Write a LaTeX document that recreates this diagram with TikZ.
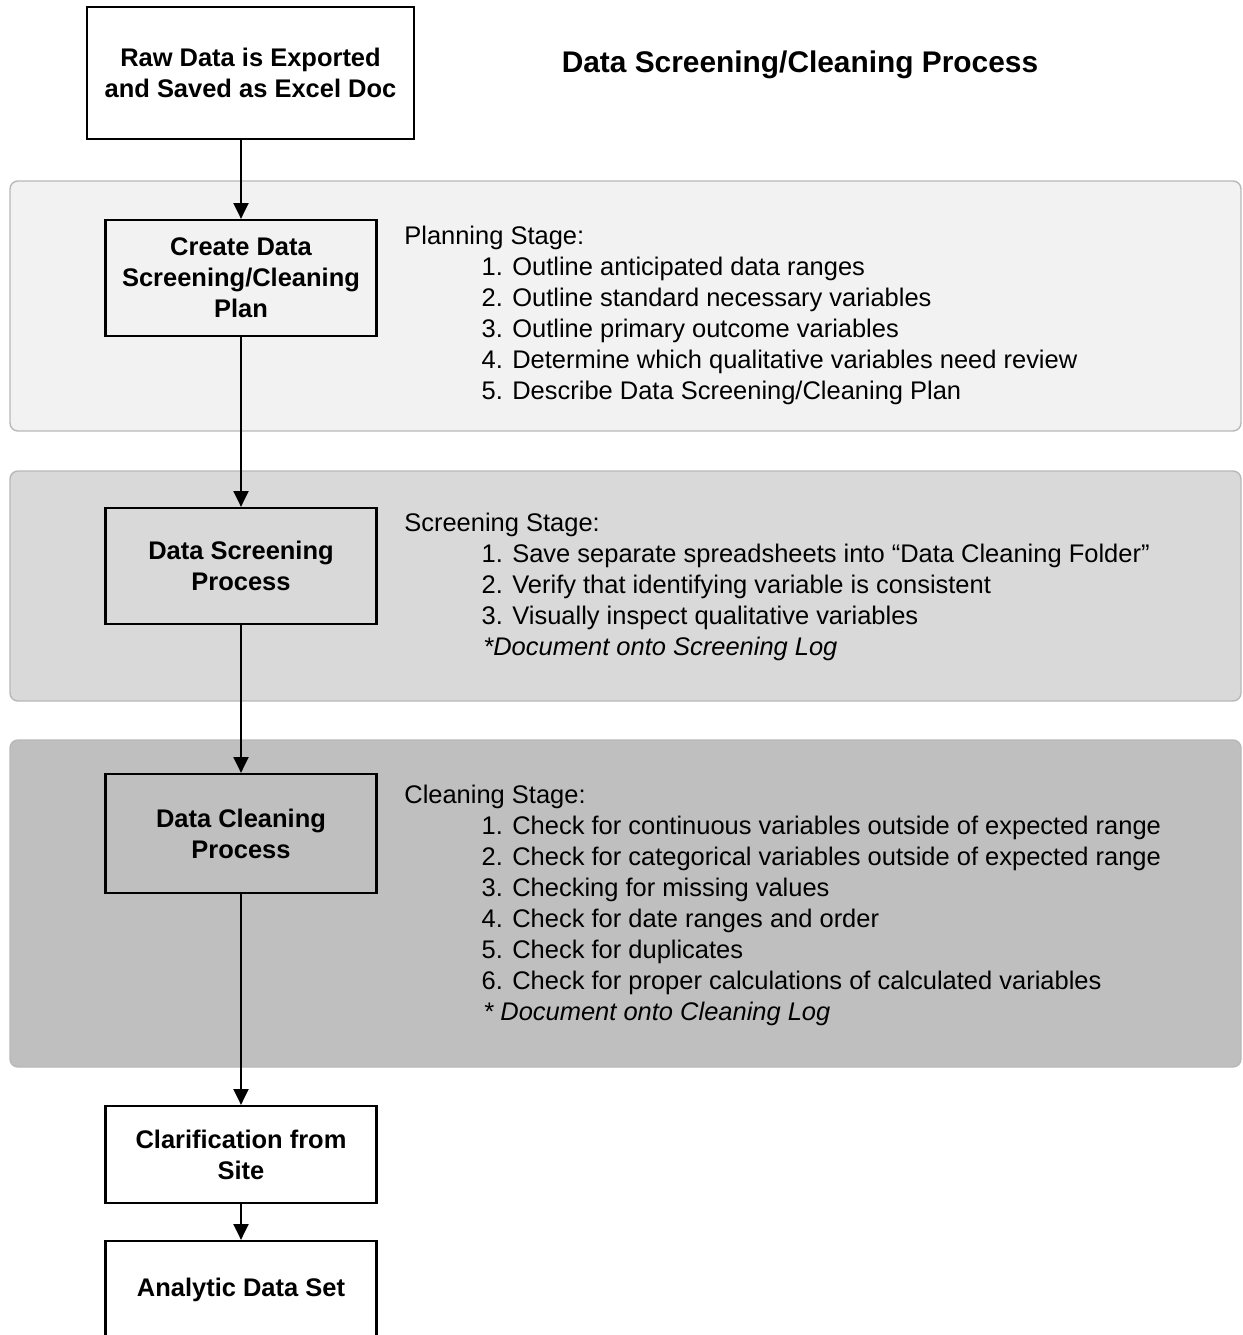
\documentclass[tikz,border=0pt]{standalone}
\usepackage{fontspec}
\setmainfont{Liberation Sans}
\usetikzlibrary{arrows.meta, positioning}
\definecolor{panelA}{HTML}{F2F2F2}
\definecolor{panelB}{HTML}{D9D9D9}
\definecolor{panelC}{HTML}{BFBFBF}
\definecolor{panelline}{HTML}{B8B8B8}
\newcommand{\itemgap}{\hspace*{44pt}}
\newcommand{\notegap}{\hspace*{45pt}}

\begin{document}
\begin{tikzpicture}[x=0.02cm, y=-0.02cm,
  box/.style={draw, line width=1.3pt, minimum width=5.42cm, inner sep=0pt,
    align=center, font={\fontsize{14.5}{17.6}\selectfont\bfseries}},
  stagetext/.style={anchor=north west, inner sep=0pt, align=left,
    font={\fontsize{14.5}{17.6}\selectfont}},
  panel/.style={draw=panelline, line width=0.8pt, rounded corners=0.16cm},
  flow/.style={line width=1.2pt, -{Triangle[length=9pt, width=8.5pt]}}]

\useasboundingbox (0,0) rectangle (1243,1335);

% stage panels
\draw[panel, fill=panelA] (10,181) rectangle (1241,431);
\draw[panel, fill=panelB] (10,471) rectangle (1241,701);
\draw[panel, fill=panelC] (10,740) rectangle (1241,1067);

\node[font={\fontsize{17}{20}\selectfont\bfseries}] (title) at (800,65) {Data Screening/Cleaning Process};

\node[box, minimum width=6.54cm, minimum height=2.64cm] (raw) at (250.5,73) {Raw Data is Exported\\and Saved as Excel Doc};
\node[box, minimum height=2.32cm] (plan) at (241,278) {Create Data\\Screening/Cleaning\\Plan};
\node[box, minimum height=2.32cm] (screen) at (241,566) {Data Screening\\Process};
\node[box, minimum height=2.38cm] (clean) at (241,833.5) {Data Cleaning\\Process};
\node[box, minimum height=1.94cm] (site) at (241,1154.5) {Clarification from\\Site};
\node[box, minimum height=1.96cm] (analytic) at (241,1290) {Analytic Data Set};

\node[stagetext] (plantext) at (404,226) {Planning Stage:\\
  \itemgap 1. Outline anticipated data ranges\\
  \itemgap 2. Outline standard necessary variables\\
  \itemgap 3. Outline primary outcome variables\\
  \itemgap 4. Determine which qualitative variables need review\\
  \itemgap 5. Describe Data Screening/Cleaning Plan};

\node[stagetext] (screentext) at (404,513) {Screening Stage:\\
  \itemgap 1. Save separate spreadsheets into “Data Cleaning Folder”\\
  \itemgap 2. Verify that identifying variable is consistent\\
  \itemgap 3. Visually inspect qualitative variables\\
  \notegap \textit{*Document onto Screening Log}};

\node[stagetext] (cleantext) at (404,785) {Cleaning Stage:\\
  \itemgap 1. Check for continuous variables outside of expected range\\
  \itemgap 2. Check for categorical variables outside of expected range\\
  \itemgap 3. Checking for missing values\\
  \itemgap 4. Check for date ranges and order\\
  \itemgap 5. Check for duplicates\\
  \itemgap 6. Check for proper calculations of calculated variables\\
  \notegap \textit{* Document onto Cleaning Log}};

\draw[flow] (raw.south -| plan) -- (plan);
\draw[flow] (plan) -- (screen);
\draw[flow] (screen) -- (clean);
\draw[flow] (clean) -- (site);
\draw[flow] (site) -- (analytic);

\end{tikzpicture}
\end{document}
